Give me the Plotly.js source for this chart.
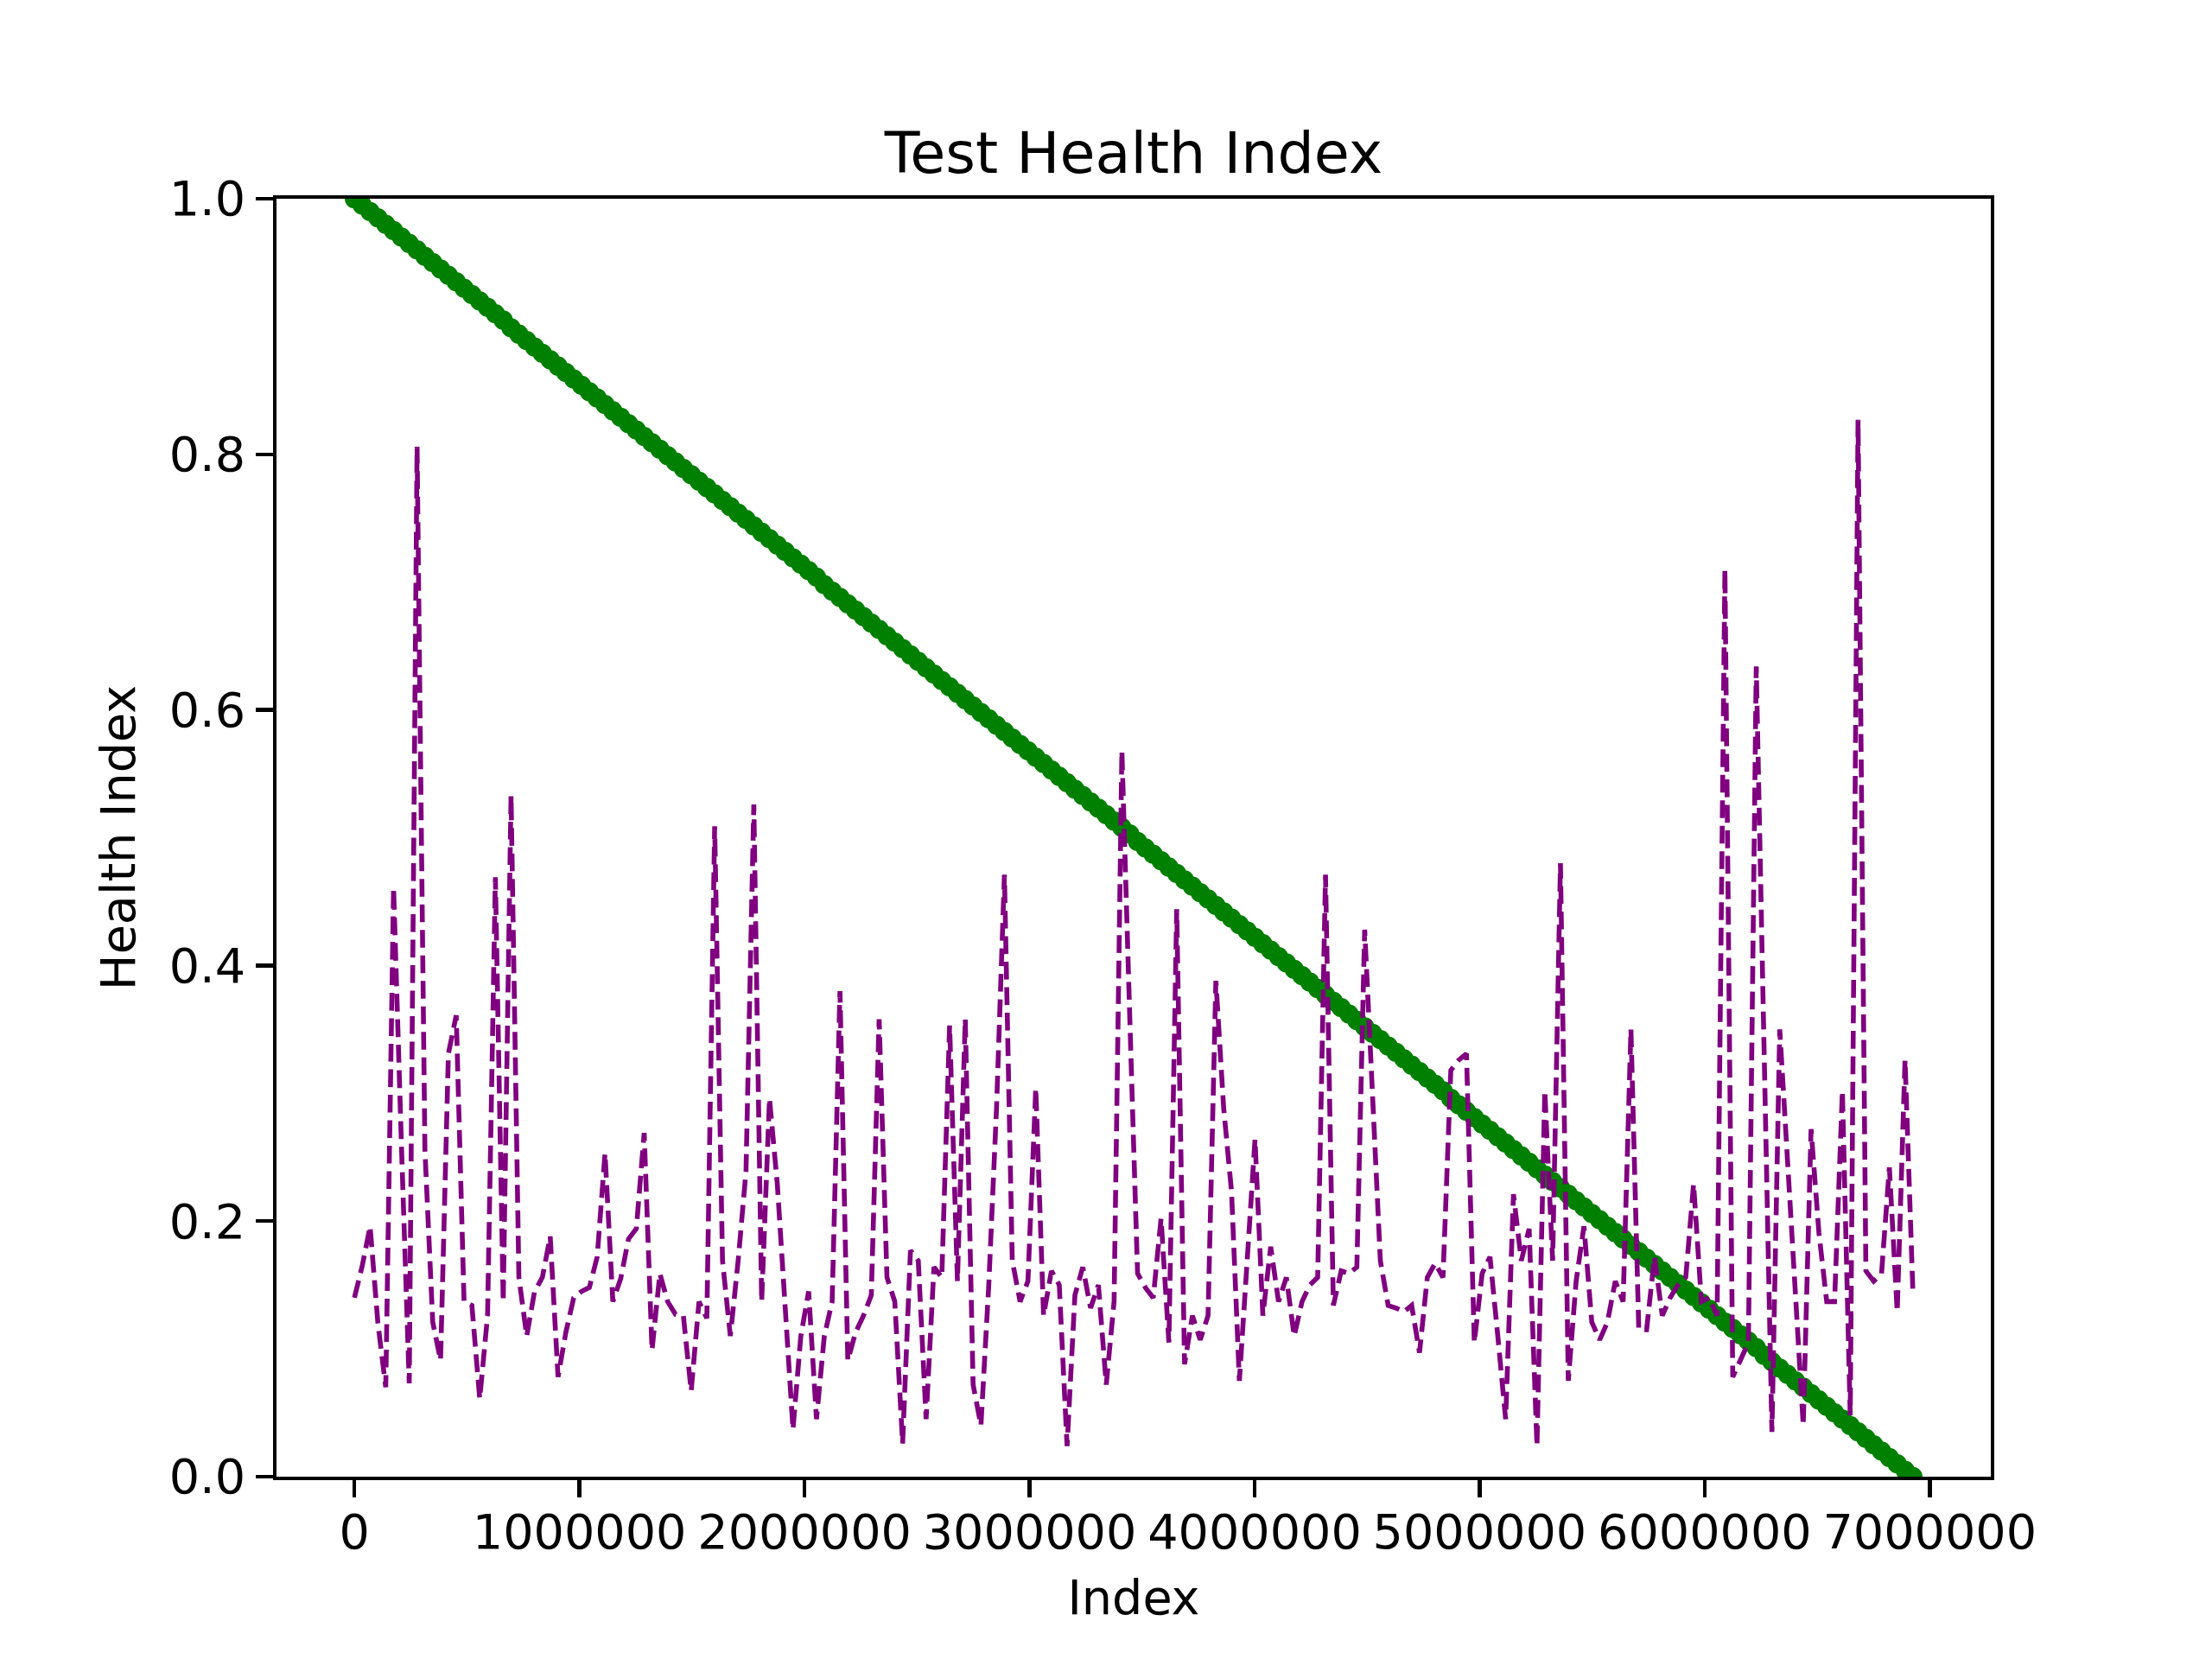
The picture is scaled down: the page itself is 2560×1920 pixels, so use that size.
<!DOCTYPE html>
<html>
<head>
<meta charset="utf-8">
<script src="https://cdn.plot.ly/plotly-3.0.1.min.js"></script>
<style>
  html, body { margin: 0; padding: 0; background: #fff; }
  #plot-hi { width: 2560px; height: 1920px; }
</style>
</head>
<body>
<div id="plot-hi"></div>
<script>
// spacing between samples on the index axis
var sampleStep = 34800;

// predicted health index (purple dashed)
var predicted = [
    0.140, 0.165, 0.196, 0.120, 0.070, 0.461, 0.260, 0.073, 0.806, 0.256,
    0.121, 0.091, 0.331, 0.361, 0.137, 0.134, 0.061, 0.126, 0.469, 0.137,
    0.533, 0.156, 0.110, 0.145, 0.156, 0.188, 0.078, 0.113, 0.140, 0.145,
    0.148, 0.172, 0.253, 0.137, 0.155, 0.186, 0.194, 0.269, 0.099, 0.159,
    0.137, 0.127, 0.126, 0.067, 0.137, 0.124, 0.509, 0.169, 0.110, 0.169,
    0.239, 0.526, 0.137, 0.296, 0.229, 0.137, 0.037, 0.110, 0.145, 0.045,
    0.110, 0.137, 0.380, 0.091, 0.113, 0.126, 0.142, 0.358, 0.156, 0.137,
    0.026, 0.177, 0.169, 0.045, 0.164, 0.156, 0.353, 0.153, 0.358, 0.072,
    0.040, 0.150, 0.290, 0.471, 0.169, 0.137, 0.153, 0.304, 0.126, 0.161,
    0.150, 0.024, 0.142, 0.164, 0.132, 0.150, 0.072, 0.137, 0.568, 0.360,
    0.159, 0.148, 0.140, 0.202, 0.105, 0.444, 0.088, 0.126, 0.107, 0.126,
    0.388, 0.288, 0.223, 0.075, 0.175, 0.264, 0.126, 0.180, 0.137, 0.156,
    0.110, 0.137, 0.150, 0.156, 0.471, 0.134, 0.161, 0.159, 0.164, 0.428,
    0.299, 0.169, 0.134, 0.132, 0.129, 0.134, 0.097, 0.156, 0.167, 0.156,
    0.318, 0.326, 0.331, 0.105, 0.159, 0.172, 0.110, 0.045, 0.221, 0.169,
    0.194, 0.024, 0.302, 0.169, 0.480, 0.075, 0.153, 0.196, 0.121, 0.107,
    0.121, 0.153, 0.137, 0.350, 0.115, 0.115, 0.172, 0.126, 0.140, 0.150,
    0.156, 0.229, 0.137, 0.140, 0.126, 0.710, 0.078, 0.091, 0.105, 0.634,
    0.330, 0.035, 0.350, 0.250, 0.140, 0.040, 0.272, 0.191, 0.137, 0.137,
    0.302, 0.048, 0.827, 0.161, 0.153, 0.159, 0.242, 0.129, 0.326, 0.145
];

// true health index (green dots)
var actual = [
    1.000, 0.995, 0.990, 0.985, 0.980, 0.975, 0.970, 0.965, 0.960, 0.955,
    0.950, 0.945, 0.940, 0.935, 0.930, 0.925, 0.920, 0.915, 0.910, 0.905,
    0.899, 0.894, 0.889, 0.884, 0.879, 0.874, 0.869, 0.864, 0.859, 0.854,
    0.849, 0.844, 0.839, 0.834, 0.829, 0.824, 0.819, 0.814, 0.809, 0.804,
    0.799, 0.794, 0.789, 0.784, 0.779, 0.774, 0.769, 0.764, 0.759, 0.754,
    0.749, 0.744, 0.739, 0.734, 0.729, 0.724, 0.719, 0.714, 0.709, 0.704,
    0.698, 0.693, 0.688, 0.683, 0.678, 0.673, 0.668, 0.663, 0.658, 0.653,
    0.648, 0.643, 0.638, 0.633, 0.628, 0.623, 0.618, 0.613, 0.608, 0.603,
    0.598, 0.593, 0.588, 0.583, 0.578, 0.573, 0.568, 0.563, 0.558, 0.553,
    0.548, 0.543, 0.538, 0.533, 0.528, 0.523, 0.518, 0.513, 0.508, 0.503,
    0.497, 0.492, 0.487, 0.482, 0.477, 0.472, 0.467, 0.462, 0.457, 0.452,
    0.447, 0.442, 0.437, 0.432, 0.427, 0.422, 0.417, 0.412, 0.407, 0.402,
    0.397, 0.392, 0.387, 0.382, 0.377, 0.372, 0.367, 0.362, 0.357, 0.352,
    0.347, 0.342, 0.337, 0.332, 0.327, 0.322, 0.317, 0.312, 0.307, 0.302,
    0.296, 0.291, 0.286, 0.281, 0.276, 0.271, 0.266, 0.261, 0.256, 0.251,
    0.246, 0.241, 0.236, 0.231, 0.226, 0.221, 0.216, 0.211, 0.206, 0.201,
    0.196, 0.191, 0.186, 0.181, 0.176, 0.171, 0.166, 0.161, 0.156, 0.151,
    0.146, 0.141, 0.136, 0.131, 0.126, 0.121, 0.116, 0.111, 0.106, 0.101,
    0.095, 0.090, 0.085, 0.080, 0.075, 0.070, 0.065, 0.060, 0.055, 0.050,
    0.045, 0.040, 0.035, 0.030, 0.025, 0.020, 0.015, 0.010, 0.005, 0.000
];

var xTickVals = [0, 1000000, 2000000, 3000000, 4000000, 5000000, 6000000, 7000000];
var xTickText = ["0", "1000000", "2000000", "3000000", "4000000", "5000000", "6000000", "7000000"];
var yTickVals = [0, 0.2, 0.4, 0.6, 0.8, 1.0];
var yTickText = ["0.0", "0.2", "0.4", "0.6", "0.8", "1.0"];

function plot_hi() {
    'use strict';

    var idx = [];
    for (var i = 0; i < predicted.length; i++) {
        idx.push(i * sampleStep);
    }

    var font = {family: "DejaVu Sans, Liberation Sans, sans-serif", size: 55.6, color: "#000"};

    var trace1 = {
        type:   "scatter",
        mode:   "markers",
        name:   "Actual",
        x:      idx,
        y:      actual,
        marker: {color: "green", size: 16.7, line: {color: "green", width: 5.6}}
    };

    var trace2 = {
        type:   "scatter",
        mode:   "lines",
        name:   "Predicted",
        x:      idx,
        y:      predicted,
        line:   {color: "purple", width: 5.6, dash: "20.6px,8.9px"}
    };

    var xmax = idx[idx.length - 1];
    var pad = xmax * 0.05;

    var axisCommon = {
        showline: true, linecolor: "#000", linewidth: 4.4, mirror: true,
        ticks: "outside", ticklen: 19.4, tickwidth: 4.4, tickcolor: "#000",
        showgrid: false, zeroline: false, tickfont: font
    };

    var layout = {
        width: 2560, height: 1920,
        margin: {l: 320, r: 256, t: 230, b: 211, pad: 0},
        paper_bgcolor: "#fff", plot_bgcolor: "#fff",
        showlegend: false,
        font: font,
        title: {
            text: "Test Health Index",
            font: {family: font.family, size: 66.7, color: "#000"},
            x: 0.5, xref: "paper", xanchor: "center",
            y: 1, yref: "paper", yanchor: "bottom",
            pad: {b: 30}
        },
        xaxis: Object.assign({}, axisCommon, {
            range: [-pad, xmax + pad],
            tickmode: "array", tickvals: xTickVals, ticktext: xTickText,
            ticklabelstandoff: -8,
            title: {text: "Index", font: font, standoff: 27}
        }),
        yaxis: Object.assign({}, axisCommon, {
            range: [0, 1],
            tickmode: "array", tickvals: yTickVals, ticktext: yTickText,
            ticklabelstandoff: 1,
            title: {text: "Health Index", font: font, standoff: 22}
        })
    };

    Plotly.newPlot('plot-hi', [trace1, trace2], layout, {staticPlot: true});
}

plot_hi();
</script>
</body>
</html>
